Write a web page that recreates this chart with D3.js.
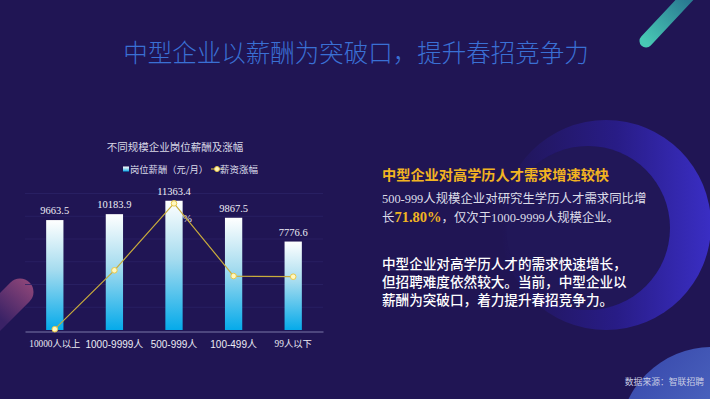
<!DOCTYPE html>
<html>
<head>
<meta charset="utf-8">
<script src="https://cdn.jsdelivr.net/npm/d3@7"></script>
<style>
  body { margin: 0; background: #201554; }
  svg { display: block; }
</style>
</head>
<body>
<div id="chart-area"></div>
<script>
// data
var categories = ["10000人以上", "1000-9999人", "500-999人", "100-499人", "99人以下"]
var salary = [9663.5, 10183.9, 11363.4, 9867.5, 7776.6]
var growth = [0.05, 3.63, 7.7, 3.28, 3.24]
var salaryTicks = [2000, 4000, 6000, 8000, 10000, 12000]

var cw = 710
var ch = 399
var bg = "#201554"

var svg = d3.select("#chart-area").append("svg")
    .attr("width", cw)
    .attr("height", ch)

var defs = svg.append("defs")

var barGrad = defs.append("linearGradient").attr("id", "barGrad")
    .attr("x1", 0).attr("y1", 0).attr("x2", 0).attr("y2", 1)
barGrad.append("stop").attr("offset", "0%").attr("stop-color", "#ffffff")
barGrad.append("stop").attr("offset", "45%").attr("stop-color", "#a6dcef")
barGrad.append("stop").attr("offset", "100%").attr("stop-color", "#05aaea")

var ringGrad = defs.append("linearGradient").attr("id", "ringGrad")
    .attr("x1", 0).attr("y1", 0).attr("x2", 1).attr("y2", 0)
ringGrad.append("stop").attr("offset", "0%").attr("stop-color", bg)
ringGrad.append("stop").attr("offset", "55%").attr("stop-color", "#281c86")
ringGrad.append("stop").attr("offset", "100%").attr("stop-color", "#3a2ec4")

var footGrad = defs.append("linearGradient").attr("id", "footGrad")
    .attr("x1", 0).attr("y1", 0).attr("x2", 1).attr("y2", 1)
footGrad.append("stop").attr("offset", "0%").attr("stop-color", "#3443a8")
footGrad.append("stop").attr("offset", "100%").attr("stop-color", "#6a90dc")

var tealGrad = defs.append("linearGradient").attr("id", "tealGrad")
    .attr("gradientUnits", "userSpaceOnUse")
    .attr("x1", 645).attr("y1", 42).attr("x2", 686).attr("y2", 0)
tealGrad.append("stop").attr("offset", "0%").attr("stop-color", "#48c9b4")
tealGrad.append("stop").attr("offset", "100%").attr("stop-color", "#2a7a92")

var pinkGrad = defs.append("linearGradient").attr("id", "pinkGrad")
    .attr("gradientUnits", "userSpaceOnUse")
    .attr("x1", 30).attr("y1", 285).attr("x2", 0).attr("y2", 318)
pinkGrad.append("stop").attr("offset", "0%").attr("stop-color", "#8a4478")
pinkGrad.append("stop").attr("offset", "100%").attr("stop-color", "#3a2266")

// background
svg.append("rect").attr("width", cw).attr("height", ch).attr("fill", bg)

svg.append("circle").attr("cx", 606).attr("cy", 225).attr("r", 105).attr("fill", "url(#ringGrad)")
svg.append("circle").attr("cx", 588).attr("cy", 228).attr("r", 82).attr("fill", "#211758")
svg.append("circle").attr("cx", 712).attr("cy", 440).attr("r", 93).attr("fill", "url(#footGrad)")

svg.append("line")
    .attr("x1", 646).attr("y1", 41).attr("x2", 690).attr("y2", -6)
    .attr("stroke", "url(#tealGrad)").attr("stroke-width", 13).attr("stroke-linecap", "round")

svg.append("line")
    .attr("x1", 20).attr("y1", 292).attr("x2", -10).attr("y2", 322)
    .attr("stroke", "url(#pinkGrad)").attr("stroke-width", 27).attr("stroke-linecap", "round")

// title
svg.append("text")
    .attr("x", 356).attr("y", 62)
    .attr("text-anchor", "middle")
    .attr("font-family", "'Noto Sans CJK SC'")
    .attr("font-weight", 300)
    .attr("font-size", "24.5px")
    .attr("fill", "#3a70d4")
    .text("中型企业以薪酬为突破口，提升春招竞争力")

// chart
var x = d3.scaleBand()
    .domain(categories)
    .range([25, 323])
    .paddingInner(0.71)
    .paddingOuter(0.355)

var y = d3.scaleLinear()
    .domain([0, 12000])
    .range([330, 193.5])

var y2 = d3.scaleLinear()
    .domain([0, 8.3])
    .range([330, 193.5])

var g = svg.append("g")

g.selectAll(".grid")
    .data(salaryTicks)
    .enter().append("line")
    .attr("x1", 25).attr("x2", 323)
    .attr("y1", d => y(d)).attr("y2", d => y(d))
    .attr("stroke", "#2b2266").attr("stroke-width", 0.8)

var bottomAxis = d3.axisBottom(x).tickSize(0).tickPadding(9)
var xAxisGroup = g.append("g")
    .attr("transform", "translate(0, " + (y(0) + 1.5) + ")")
    .call(bottomAxis)
xAxisGroup.select(".domain").attr("stroke", "#7a78a8").attr("stroke-width", 1.2)
xAxisGroup.selectAll("text")
    .attr("fill", "#ececf4")
    .attr("font-size", (d, i) => (i == 0 || i == 4) ? "9.3px" : "10px")
    .attr("font-family", (d, i) => (i == 0 || i == 4) ? "'Liberation Serif', 'Noto Sans CJK SC'" : "'Liberation Sans', 'Noto Sans CJK SC'")

// peak label sits behind the bar
var peak = d3.maxIndex(growth)
g.append("text")
    .attr("x", x(categories[peak]) + x.bandwidth() / 2 + 18)
    .attr("y", y2(growth[peak]) + 19)
    .attr("text-anchor", "end")
    .attr("font-family", "'Liberation Serif'")
    .attr("font-size", "11px")
    .attr("fill", "#e0e0ea")
    .text(growth[peak].toFixed(1) + "%")

g.selectAll(".bar")
    .data(salary)
    .enter().append("rect")
    .attr("x", (d, i) => x(categories[i]))
    .attr("y", d => y(d))
    .attr("width", x.bandwidth())
    .attr("height", d => y(0) - y(d))
    .attr("fill", "url(#barGrad)")

g.selectAll(".val")
    .data(salary)
    .enter().append("text")
    .attr("x", (d, i) => x(categories[i]) + x.bandwidth() / 2)
    .attr("y", d => y(d) - 6)
    .attr("text-anchor", "middle")
    .attr("font-family", "'Liberation Serif'")
    .attr("font-size", "10.5px")
    .attr("fill", "#eeeef6")
    .text(d => d.toFixed(1))

var line = d3.line()
    .x((d, i) => x(categories[i]) + x.bandwidth() / 2)
    .y(d => y2(d))

g.append("path")
    .datum(growth)
    .attr("d", line)
    .attr("fill", "none")
    .attr("stroke", "#c9ac3c")
    .attr("stroke-width", 1.2)

g.selectAll(".pt")
    .data(growth)
    .enter().append("circle")
    .attr("cx", (d, i) => x(categories[i]) + x.bandwidth() / 2)
    .attr("cy", d => y2(d))
    .attr("r", 2.8)
    .attr("fill", "#fff7c0")
    .attr("stroke", "#e8c848")
    .attr("stroke-width", 1)

// chart title + legend
svg.append("text")
    .attr("x", 175).attr("y", 151)
    .attr("text-anchor", "middle")
    .attr("font-family", "'Noto Sans CJK SC'")
    .attr("font-size", "10.5px")
    .attr("fill", "#d8d8e6")
    .text("不同规模企业岗位薪酬及涨幅")

svg.append("rect")
    .attr("x", 123).attr("y", 166.5).attr("width", 6).attr("height", 5)
    .attr("fill", "url(#barGrad)")
svg.append("text")
    .attr("x", 130).attr("y", 172.5)
    .attr("font-family", "'Noto Sans CJK SC'")
    .attr("font-size", "9.3px")
    .attr("fill", "#dcdcea")
    .text("岗位薪酬（元/月）")
svg.append("line")
    .attr("x1", 211).attr("x2", 223).attr("y1", 169).attr("y2", 169)
    .attr("stroke", "#c9ac3c").attr("stroke-width", 1.2)
svg.append("circle")
    .attr("cx", 217).attr("cy", 169).attr("r", 2.5)
    .attr("fill", "#fff7c0").attr("stroke", "#e8c848")
svg.append("text")
    .attr("x", 220).attr("y", 172.5)
    .attr("font-family", "'Noto Sans CJK SC'")
    .attr("font-size", "9.5px")
    .attr("fill", "#dcdcea")
    .text("薪资涨幅")

// right text
var txt = svg.append("g").attr("font-family", "'Liberation Serif', 'Noto Sans CJK SC'")

txt.append("text")
    .attr("x", 382).attr("y", 180)
    .attr("font-family", "'Noto Sans CJK SC'")
    .attr("font-weight", "bold")
    .attr("font-size", "14.2px")
    .attr("fill", "#f2b422")
    .text("中型企业对高学历人才需求增速较快")

txt.append("text")
    .attr("x", 382).attr("y", 203)
    .attr("font-size", "12.4px")
    .attr("fill", "#dcdce8")
    .text("500-999人规模企业对研究生学历人才需求同比增")

var l3 = txt.append("text")
    .attr("x", 382).attr("y", 222)
    .attr("font-size", "12.4px")
    .attr("fill", "#dcdce8")
l3.append("tspan").text("长")
l3.append("tspan").attr("font-weight", "bold").attr("font-size", "14.5px").attr("fill", "#f2b422").text("71.80%")
l3.append("tspan").text("，仅次于1000-9999人规模企业。")

var para = ["中型企业对高学历人才的需求快速增长，", "但招聘难度依然较大。当前，中型企业以", "薪酬为突破口，着力提升春招竞争力。"]
txt.append("text")
    .attr("font-family", "'Noto Sans CJK SC'")
    .attr("font-weight", 500)
    .attr("font-size", "13.6px")
    .attr("fill", "#ffffff")
    .selectAll("tspan")
    .data(para)
    .enter().append("tspan")
    .attr("x", 382)
    .attr("y", (d, i) => 269 + i * 18)
    .text(d => d)

svg.append("text")
    .attr("x", 704).attr("y", 385)
    .attr("text-anchor", "end")
    .attr("font-family", "'Noto Sans CJK SC'")
    .attr("font-size", "8.8px")
    .attr("fill", "#c8cce4")
    .text("数据来源：智联招聘")
</script>
</body>
</html>
